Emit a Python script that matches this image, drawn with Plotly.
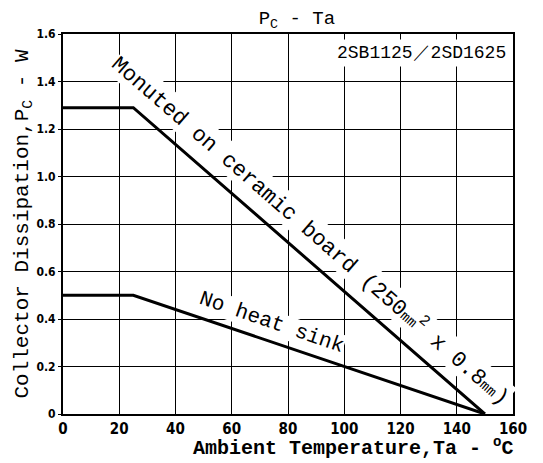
import plotly.graph_objects as go

ta_ceramic = [0, 25, 150]
pc_ceramic = [1.29, 1.29, 0]
ta_noheat = [0, 25, 150]
pc_noheat = [0.5, 0.5, 0]

x_ticks = [0, 20, 40, 60, 80, 100, 120, 140, 160]
x_ticktext = ["<b>0</b>", "<b>20</b>", "<b>40</b>", "<b>60</b>", "<b>80</b>", "<b>100</b>", "<b>120</b>", "<b>140</b>", "<b>160</b>"]
y_ticks = [0, 0.2, 0.4, 0.6, 0.8, 1.0, 1.2, 1.4, 1.6]
y_ticktext = ["<b>0</b>", "<b>0.2</b>", "<b>0.4</b>", "<b>0.6</b>", "<b>0.8</b>", "<b>1.0</b>", "<b>1.2</b>", "<b>1.4</b>", "<b>1.6</b>"]

mono = "Liberation Mono, Courier New, monospace"
narrow = "Liberation Sans Narrow, DejaVu Sans Condensed, Arial"

fig = go.Figure()
fig.add_trace(go.Scatter(x=ta_ceramic, y=pc_ceramic, mode="lines",
                         line=dict(color="black", width=3), showlegend=False))
fig.add_trace(go.Scatter(x=ta_noheat, y=pc_noheat, mode="lines",
                         line=dict(color="black", width=3), showlegend=False))

fig.add_annotation(x=88, y=0.775, xref="x", yref="y", showarrow=False,
                   text="Monuted on ceramic board (250<span style='font-size:14px'>mm</span><sup>2</sup> x 0.8<span style='font-size:14px'>mm</span>)",
                   textangle=41, font=dict(family=mono, size=22, color="black"),
                   bgcolor="white", borderpad=0)
fig.add_annotation(x=74, y=0.385, xref="x", yref="y", showarrow=False,
                   text="No heat sink", textangle=19,
                   font=dict(family=mono, size=21, color="black"),
                   bgcolor="white", borderpad=0)
fig.add_annotation(x=159, y=1.52, xref="x", yref="y", showarrow=False,
                   xanchor="right", yanchor="middle",
                   text="2SB1125／2SD1625",
                   font=dict(family=mono, size=18, color="black"),
                   bgcolor="white", borderpad=3)
fig.add_annotation(x=1.005, y=-0.088, xref="paper", yref="paper", showarrow=False,
                   xanchor="right", yanchor="middle",
                   text="<b>Ambient Temperature,Ta - <sup>o</sup>C</b>",
                   font=dict(family=mono, size=20, color="black"))

fig.update_layout(
    width=535, height=455,
    margin=dict(l=55, r=30, t=26, b=49, autoexpand=False),
    paper_bgcolor="white", plot_bgcolor="white",
    title=dict(text="P<sub>C</sub> - Ta", x=0.54, xanchor="center", y=0.995, yanchor="top",
               font=dict(family=mono, size=19, color="black")),
    xaxis=dict(range=[0, 160], tickmode="array", tickvals=x_ticks, ticktext=x_ticktext,
               showgrid=True, gridcolor="rgb(0,0,0)", gridwidth=1.2,
               showline=True, linecolor="black", linewidth=2, mirror=True,
               ticks="", tickfont=dict(family=narrow, size=15, color="black"),
               zeroline=False, automargin=False),
    yaxis=dict(range=[0, 1.6], tickmode="array", tickvals=y_ticks, ticktext=y_ticktext,
               showgrid=True, gridcolor="rgb(0,0,0)", gridwidth=1.2,
               showline=True, linecolor="black", linewidth=2, mirror=True,
               ticks="outside", ticklen=3, tickcolor="black",
               tickfont=dict(family=narrow, size=12, color="black"),
               zeroline=False, automargin=False,
               title=dict(text="Collector Dissipation,P<sub>C</sub> - W",
                          font=dict(family=mono, size=21, color="black"),
                          standoff=2)),
)

fig.write_html("out.html")
